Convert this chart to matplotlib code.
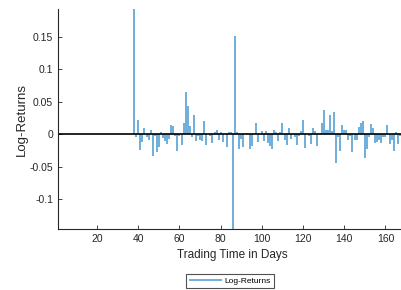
import numpy as np
import matplotlib
matplotlib.use('Agg')
import matplotlib.pyplot as plt

plt.rcParams['font.family'] = ['Liberation Sans', 'DejaVu Sans']

# Log-returns, trading days 38..169 (nothing before day 38)
first_day = 38
log_returns = [
    0.193, -0.005, 0.022, -0.025, -0.012, 0.009, -0.004, -0.009, 0.007, -0.034,   # 38-47
    -0.003, -0.027, -0.020, 0.003, -0.006, -0.010, -0.015, -0.008, 0.015, 0.013,  # 48-57
    -0.003, -0.026, -0.002, -0.016, 0.017, 0.065, 0.043, 0.012, -0.005, 0.030,   # 58-67
    -0.011, -0.003, -0.009, -0.010, 0.021, -0.017, 0.001, -0.002, -0.013, 0.004,  # 68-77
    0.007, -0.009, 0.003, -0.012, 0.001, -0.020, 0.003, 0.004, -0.146, 0.151,     # 78-87
    0.004, -0.023, -0.008, -0.020, 0.001, 0.002, -0.022, -0.018, 0.001, 0.017,    # 88-97
    -0.012, 0.001, 0.005, -0.010, 0.005, -0.013, -0.018, -0.023, 0.006, 0.003,    # 98-107
    -0.011, 0.003, 0.018, -0.009, -0.016, 0.010, -0.008, 0.001, -0.004, -0.016,   # 108-117
    -0.003, 0.005, 0.022, -0.021, 0.001, -0.003, -0.015, 0.009, 0.005, -0.018,    # 118-127
    0.002, 0.018, 0.038, 0.007, 0.006, 0.030, 0.005, 0.035, -0.044, -0.005,       # 128-137
    -0.026, 0.015, 0.007, 0.006, -0.009, -0.003, -0.028, -0.009, -0.009, 0.011,   # 138-147
    0.018, 0.020, -0.036, -0.023, -0.005, 0.016, 0.009, -0.014, -0.012, -0.009,   # 148-157
    -0.013, -0.005, -0.005, 0.015, -0.015, -0.009, -0.026, 0.004, -0.015, -0.002, # 158-167
    -0.010, 0.023,                                                                 # 168-169
]
days = np.arange(first_day, first_day + len(log_returns))

x_ticks = [20, 40, 60, 80, 100, 120, 140, 160]
y_ticks = [-0.1, -0.05, 0, 0.05, 0.1, 0.15]
y_tick_labels = ['-0.1', '-0.05', '0', '0.05', '0.1', '0.15']

fig = plt.figure(figsize=(4.02, 2.90), dpi=100)
ax = fig.add_axes([58 / 402, 1 - 229 / 290, 1 - 58 / 402 + 0.01, 220 / 290])

ax.vlines(days, 0, log_returns, color='#2a86c8', linewidth=1.1, alpha=0.85,
          label='Log-Returns')
ax.axhline(0, color='black', linewidth=1.2)

ax.set_xlim(1, 170)
ax.set_ylim(-0.146, 0.193)
ax.set_xticks(x_ticks)
ax.set_yticks(y_ticks)
ax.set_yticklabels(y_tick_labels)
ax.tick_params(direction='in', labelsize=7.5, colors='#262626', length=3, width=0.6)

for side in ['top', 'right']:
    ax.spines[side].set_visible(False)
for side in ['left', 'bottom']:
    ax.spines[side].set_color('#262626')
    ax.spines[side].set_linewidth(0.8)

ax.set_xlabel('Trading Time in Days', fontsize=8.5, color='#262626', labelpad=4)
ax.set_ylabel('Log-Returns', fontsize=9.5, color='#262626', labelpad=1)

leg = ax.legend(loc='upper center', fontsize=6, frameon=True, fancybox=False,
                handlelength=4, handletextpad=0.3, borderpad=0.35)
leg.set_bbox_to_anchor((230 / 402, 1 - 270 / 290), transform=fig.transFigure)
leg.get_frame().set_edgecolor('#262626')
leg.get_frame().set_linewidth(0.8)

fig.savefig('out.png', dpi=100)
